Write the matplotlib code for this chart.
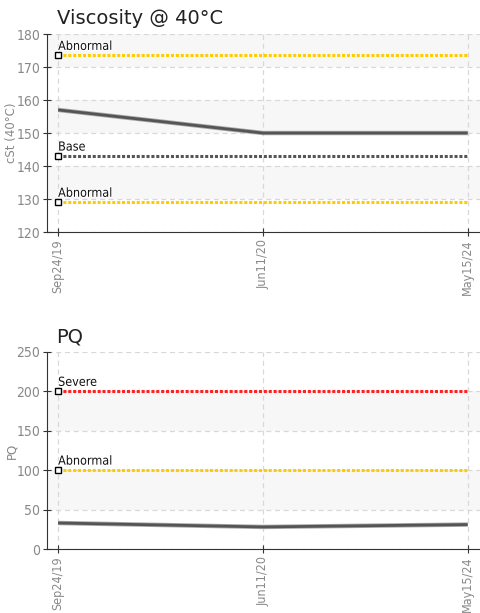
import matplotlib
matplotlib.use("Agg")
import matplotlib.pyplot as plt
import matplotlib.patheffects as pe

dates = ["Sep24/19", "Jun11/20", "May15/24"]
visc_values = [157, 150, 150]
pq_values = [33, 28, 31]

visc_limits = [("Abnormal", 173.5, "#FFCC00"), ("Base", 143, "#555555"), ("Abnormal", 129, "#FFCC00")]
pq_limits = [("Severe", 200, "#FF2222"), ("Abnormal", 100, "#FFCC00")]

visc_yticks = [120, 130, 140, 150, 160, 170, 180]
pq_yticks = [0, 50, 100, 150, 200, 250]

fig = plt.figure(figsize=(4.8, 6.13), dpi=100)
ax1 = fig.add_axes([0.098, 0.6215, 0.902, 0.323])
ax2 = fig.add_axes([0.098, 0.1044, 0.902, 0.3214])

tick_font = dict(family="DejaVu Sans", stretch="condensed")

def style(ax, yticks, ylabel, title, values, limits, grey_start):
    x = list(range(len(dates)))
    ax.set_xlim(-0.054, 2.06)
    ax.set_ylim(yticks[0], yticks[-1])
    for i in range(len(yticks) - 1):
        if (i % 2) == grey_start:
            ax.axhspan(yticks[i], yticks[i + 1], color="#f7f7f7", zorder=0, lw=0)
    ax.set_yticks(yticks)
    ax.set_xticks(x)
    ax.set_xticklabels(dates, rotation=90, color="#888888", fontsize=9, **tick_font)
    for lab in ax.get_yticklabels():
        lab.set_color("#888888")
        lab.set_fontsize(10)
        lab.set_fontstretch("condensed")
    ax.grid(True, color="#d8d8d8", linestyle=(0, (4, 3)), linewidth=0.9, zorder=1)
    ax.set_axisbelow(True)
    for s in ["top", "right"]:
        ax.spines[s].set_visible(False)
    ax.spines["left"].set_color("#333333")
    ax.spines["bottom"].set_color("#333333")
    ax.tick_params(axis="both", direction="inout", length=6, color="#333333", pad=2)
    ax.set_ylabel(ylabel, color="#888888", fontsize=8.5)
    ax.yaxis.set_label_coords(-0.066, 0.5)
    ax.set_title(title, loc="left", fontsize=14, x=0.022, pad=7, color="#222222")
    for name, val, col in limits:
        ax.plot([0, 2], [val, val], color=col, linestyle=(0, (1, 0.6)), linewidth=2.2, zorder=3)
        ax.plot([0], [val], marker="s", markersize=5, markerfacecolor="white",
                markeredgecolor="black", markeredgewidth=1, zorder=5, clip_on=False)
        ax.annotate(name, (0, val), xytext=(0, 4), textcoords="offset points",
                    fontsize=9, color="#111111", fontstretch="condensed",
                    path_effects=[pe.withStroke(linewidth=1.5, foreground="white")], zorder=6)
    ax.plot(x, values, color="#aaaaaa", linewidth=3.2, zorder=4, solid_capstyle="butt")
    ax.plot(x, values, color="#555555", linewidth=2.0, zorder=4, solid_capstyle="butt")

style(ax1, visc_yticks, "cSt (40°C)", "Viscosity @ 40°C", visc_values, visc_limits, 1)
style(ax2, pq_yticks, "PQ", "PQ", pq_values, pq_limits, 1)

fig.savefig("out.png", dpi=100)
